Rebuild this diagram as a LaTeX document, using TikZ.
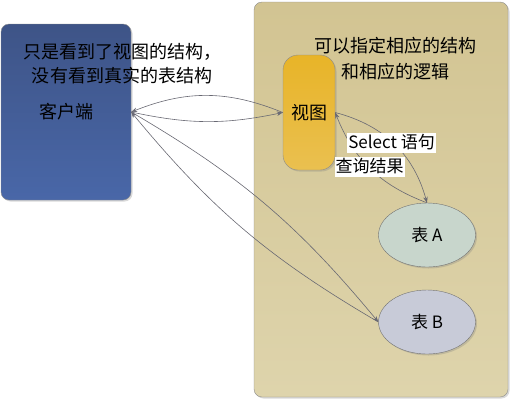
\documentclass[tikz,border=0pt]{standalone}
\usepackage{fontspec}
\setmainfont{Noto Sans CJK SC}
\usepackage{xcolor}
\usepackage{tikz}
\usetikzlibrary{shadows, shapes, positioning, arrows, arrows.meta}

\definecolor{clienttop}{RGB}{62,84,135}
\definecolor{clientbot}{RGB}{73,103,168}
\definecolor{dbtop}{RGB}{210,196,146}
\definecolor{dbbot}{RGB}{222,212,172}
\definecolor{viewtop}{RGB}{232,180,40}
\definecolor{viewbot}{RGB}{234,192,80}
\definecolor{taba}{RGB}{200,214,204}
\definecolor{tabb}{RGB}{200,203,216}
\definecolor{linkgray}{RGB}{105,105,115}

\begin{document}
\begin{tikzpicture}[x=1pt, y=1pt,
    shade/.style={drop shadow={opacity=0.3, shadow xshift=1.5pt, shadow yshift=-1.5pt}},
    box/.style={draw=gray!90, rounded corners=8pt, shade},
    tab/.style={ellipse, draw=gray!90!black, minimum width=97, minimum height=64, shade, font=\fontsize{17}{20}\selectfont},
    note/.style={align=center, font=\fontsize{18}{24}\selectfont},
    link/.style={-{Stealth[length=6pt, width=4.5pt]}, draw=linkgray, line width=0.6pt},
    tag/.style={fill=white, inner sep=1pt, text height=14pt, text depth=4pt, font=\fontsize{17}{20}\selectfont}]
    \useasboundingbox (0,0) rectangle (510,-400);

    % containers
    \node[box, minimum width=254, minimum height=395, top color=dbtop, bottom color=dbbot] (db) at (381,-199.5) {};
    \node[box, minimum width=130, minimum height=176, top color=clienttop, bottom color=clientbot, font=\fontsize{18}{20}\selectfont] (client) at (66,-112) {客户端};

    % view and tables
    \node[box, rounded corners=15pt, minimum width=52, minimum height=115, top color=viewtop, bottom color=viewbot, font=\fontsize{18}{20}\selectfont] (view) at (309,-112.5) {视图};
    \node[tab, fill=taba] (tA) at (427,-235) {表 A};
    \node[tab, fill=tabb] (tB) at (427,-322) {表 B};

    % notes
    \node[note] (clientnote) at (122,-64) {只是看到了视图的结构，\\没有看到真实的表结构};
    \node[note, font=\fontsize{18}{26}\selectfont] (viewnote) at (395,-59) {可以指定相应的结构\\和相应的逻辑};

    % connectors
    \draw[link] (view.west) to[bend right=22] (client.east);
    \draw[link] (client.east) to[bend right=12] (view.west);
    \draw[link] (client.east) to[bend left=10] (tB.west);
    \draw[link] (tB.west) to[bend left=10] (client.east);
    \draw[link] (view.east) to[bend left=30] (tA.north);
    \draw[link] (tA.north) to[bend left=24] (view.east);

    \node[tag] (sql) at (391.5,-143) {Select 语句};
    \node[tag] (result) at (369.5,-167) {查询结果};
\end{tikzpicture}
\end{document}
